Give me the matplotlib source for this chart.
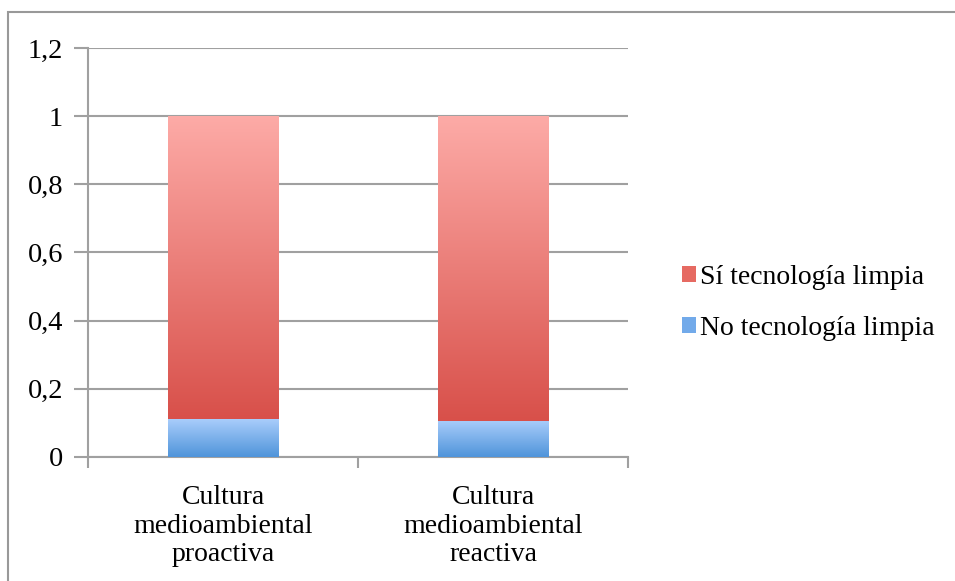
import matplotlib.pyplot as plt
import numpy as np
from matplotlib.patches import Rectangle

categories = ["Cultura\nmedioambiental\nproactiva", "Cultura\nmedioambiental\nreactiva"]
no_tec = [0.111, 0.106]
si_tec = [0.889, 0.894]
series_names = ["Sí tecnología limpia", "No tecnología limpia"]
yticks = [0, 0.2, 0.4, 0.6, 0.8, 1, 1.2]
ytick_labels = ["0", "0,2", "0,4", "0,6", "0,8", "1", "1,2"]

plt.rcParams['font.family'] = ['Liberation Serif', 'DejaVu Serif']
grey = "#a0a0a0"

fig = plt.figure(figsize=(9.55, 5.81), dpi=100)
# outer chart border (runs off the right / bottom edge)
fig.add_artist(Rectangle((8 / 955, -0.1), 1.2, 1 - 12.5 / 581 + 0.1, transform=fig.transFigure,
                         fill=False, edgecolor="#999999", linewidth=1.5))
ax = fig.add_axes([88 / 955, 1 - 457 / 581, 540 / 955, 409 / 581])

x = np.arange(len(categories))
width = 0.41


def gradient_bars(bars, top_col, bot_col):
    cmap = np.array([np.linspace(bot_col[i], top_col[i], 256) for i in range(3)]).T
    img = cmap.reshape(256, 1, 3)
    for b in bars:
        x0, y0 = b.get_x(), b.get_y()
        w, h = b.get_width(), b.get_height()
        b.set_facecolor("none")
        b.set_edgecolor("none")
        im = ax.imshow(img, extent=[x0, x0 + w, y0, y0 + h], origin="lower",
                       aspect="auto", zorder=3, interpolation="bilinear")
        im.set_clip_path(b)


def hexrgb(h):
    h = h.lstrip("#")
    return [int(h[i:i + 2], 16) / 255 for i in (0, 2, 4)]


b_no = ax.bar(x, no_tec, width, zorder=3)
b_si = ax.bar(x, si_tec, width, bottom=no_tec, zorder=3)
gradient_bars(b_no, hexrgb("#a9cdfb"), hexrgb("#4f94da"))
gradient_bars(b_si, hexrgb("#fdaba7"), hexrgb("#d8504a"))

ax.set_xlim(-0.5, 1.5)
ax.set_ylim(0, 1.2)
ax.set_yticks(yticks)
ax.set_yticklabels(ytick_labels, fontsize=20.5)
ax.set_xticks(x)
ax.set_xticklabels(categories, fontsize=20, linespacing=1.2)
ax.set_xticks([-0.5, 0.5, 1.5], minor=True)
ax.tick_params(axis="x", which="major", length=0, pad=20)
ax.tick_params(axis="x", which="minor", length=8, color=grey, width=1.5)
ax.tick_params(axis="y", length=10, color=grey, width=1.5, pad=8)
ax.yaxis.grid(True, color=grey, linewidth=1.5, zorder=0)
ax.set_axisbelow(True)
for s in ["top", "right"]:
    ax.spines[s].set_visible(False)
for s in ["left", "bottom"]:
    ax.spines[s].set_color(grey)
    ax.spines[s].set_linewidth(1.5)

handles = [Rectangle((0, 0), 1, 1, facecolor="#e66a62", edgecolor="none"),
           Rectangle((0, 0), 1, 1, facecolor="#72aaea", edgecolor="none")]
ax.legend(handles, series_names, loc="center left", bbox_to_anchor=(1.075, 0.377),
          frameon=False, fontsize=20, handlelength=0.5, handleheight=0.5,
          handletextpad=0.15, labelspacing=0.95, borderpad=0)

fig.savefig("out.png", dpi=100)
